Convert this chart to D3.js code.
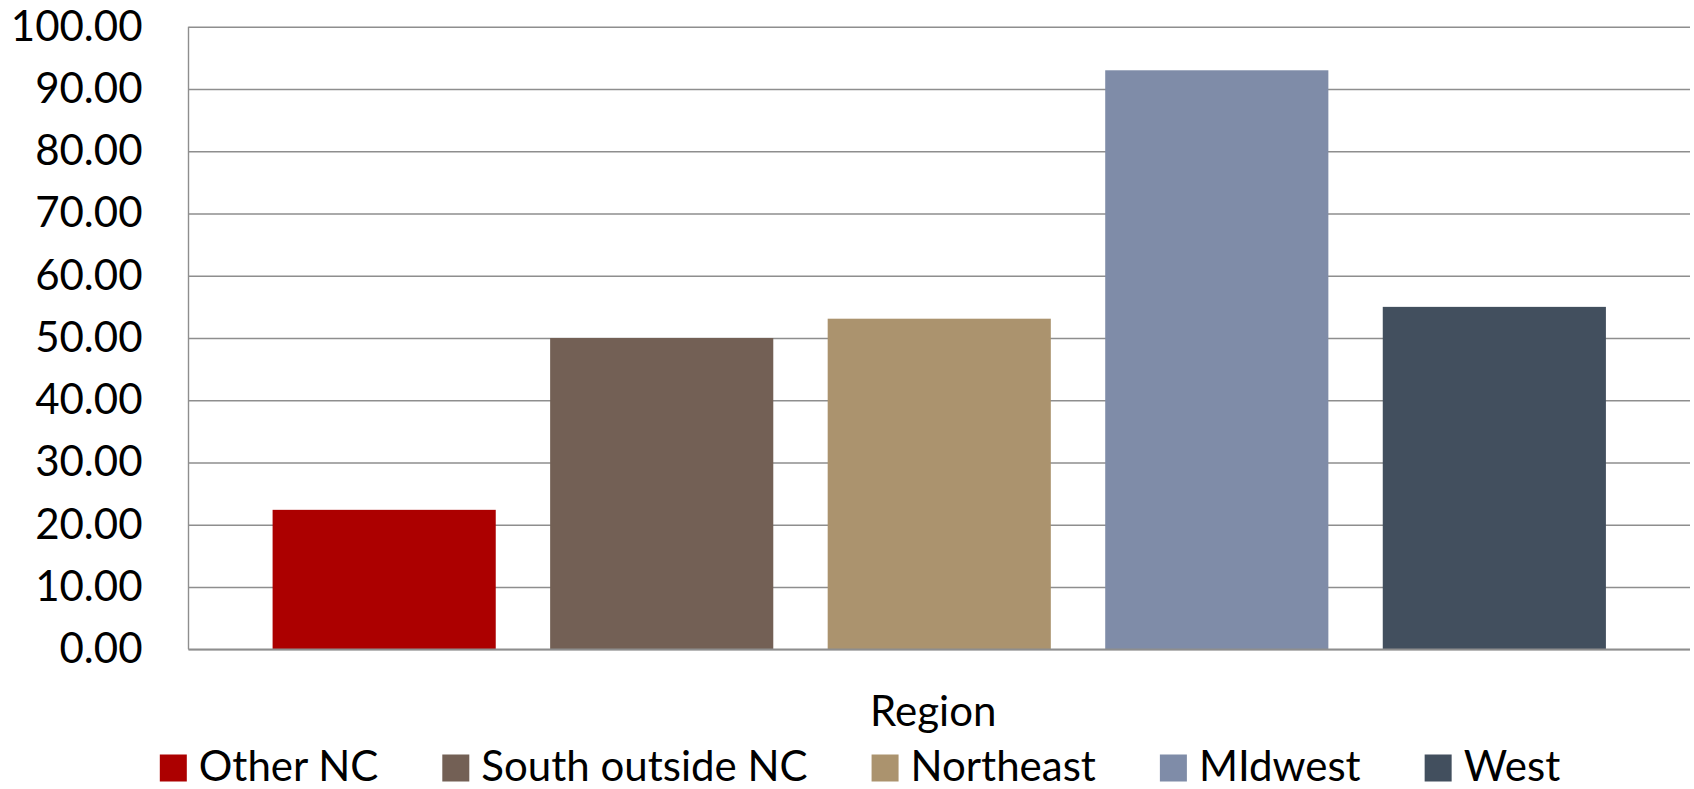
<!DOCTYPE html>
<html>
<head>
<meta charset="utf-8">
<script src="https://cdn.jsdelivr.net/npm/d3@7"></script>
<style>
  html, body { margin: 0; padding: 0; background: #ffffff; }
  svg { display: block; }
  text { font-family: Lato, "Open Sans", sans-serif; fill: #000; }
</style>
</head>
<body>
<svg id="chart" width="1694" height="789"></svg>
<script>
// Regions and their values
const categories = ["Other NC", "South outside NC", "Northeast", "MIdwest", "West"];
const values = [22.4, 50.0, 53.1, 93.0, 55.0];
const yTicks = [0, 10, 20, 30, 40, 50, 60, 70, 80, 90, 100];
const axisTitle = "Region";

// Series colours, one per region
const colors = ["#ac0000", "#736055", "#ab936e", "#7f8ca8", "#424f5e"];

const svg = d3.select("#chart");
const plot = { left: 188.5, right: 1690, top: 26.7, bottom: 649.3 };
const fontSize = 42;

const y = d3.scaleLinear().domain([0, 100]).range([plot.bottom, plot.top]);
const x = d3.scaleBand()
  .domain(categories)
  .range([plot.left, plot.right])
  .paddingInner(0.196)
  .paddingOuter(0.303);

// Gridlines and value labels
const yAxis = d3.axisLeft(y)
  .tickValues(yTicks)
  .tickFormat(d3.format(".2f"))
  .tickSizeInner(-(plot.right - plot.left))
  .tickSizeOuter(0)
  .tickPadding(46);

const gy = svg.append("g")
  .attr("transform", `translate(${plot.left},0)`)
  .call(yAxis);
gy.select(".domain").remove();
gy.selectAll(".tick line")
  .attr("stroke", "#8e8e8e")
  .attr("stroke-width", 1.4);
gy.selectAll(".tick text")
  .attr("font-size", fontSize)
  .attr("font-family", "Lato, 'Open Sans', sans-serif")
  .attr("fill", "#000");

// Left axis line
svg.append("line")
  .attr("x1", plot.left).attr("x2", plot.left)
  .attr("y1", y(100)).attr("y2", y(0))
  .attr("stroke", "#8e8e8e").attr("stroke-width", 1.4);

// Bars
svg.append("g").selectAll("rect")
  .data(categories)
  .join("rect")
  .attr("x", d => x(d))
  .attr("width", x.bandwidth())
  .attr("y", (d, i) => y(values[i]))
  .attr("height", (d, i) => y(0) - y(values[i]))
  .attr("fill", (d, i) => colors[i]);

// Baseline
svg.append("line")
  .attr("x1", plot.left).attr("x2", plot.right)
  .attr("y1", y(0)).attr("y2", y(0))
  .attr("stroke", "#8e8e8e").attr("stroke-width", 1.8);

// Axis title
svg.append("text")
  .attr("x", (plot.left + plot.right) / 2 - 6)
  .attr("y", 726)
  .attr("text-anchor", "middle")
  .attr("font-size", fontSize)
  .text(axisTitle);

// Legend, laid out from measured label widths and centred
const legend = svg.append("g");
const sw = 27, gapSwatch = 12, gapItem = 64, legendY = 766;
const items = legend.selectAll("g.item")
  .data(categories)
  .join("g")
  .attr("class", "item");
items.append("rect")
  .attr("width", sw).attr("height", sw)
  .attr("y", legendY - sw / 2 + 2)
  .attr("fill", (d, i) => colors[i]);
items.append("text")
  .attr("x", sw + gapSwatch)
  .attr("y", legendY)
  .attr("dy", "0.35em")
  .attr("font-size", fontSize)
  .text(d => d);

const widths = [];
items.each(function () {
  const w = d3.select(this).select("text").node().getComputedTextLength();
  widths.push(sw + gapSwatch + w);
});
const total = d3.sum(widths) + gapItem * (widths.length - 1);
let startX = 860 - total / 2;
items.attr("transform", (d, i) => {
  const tx = startX;
  startX += widths[i] + gapItem;
  return `translate(${tx},0)`;
});
</script>
</body>
</html>
